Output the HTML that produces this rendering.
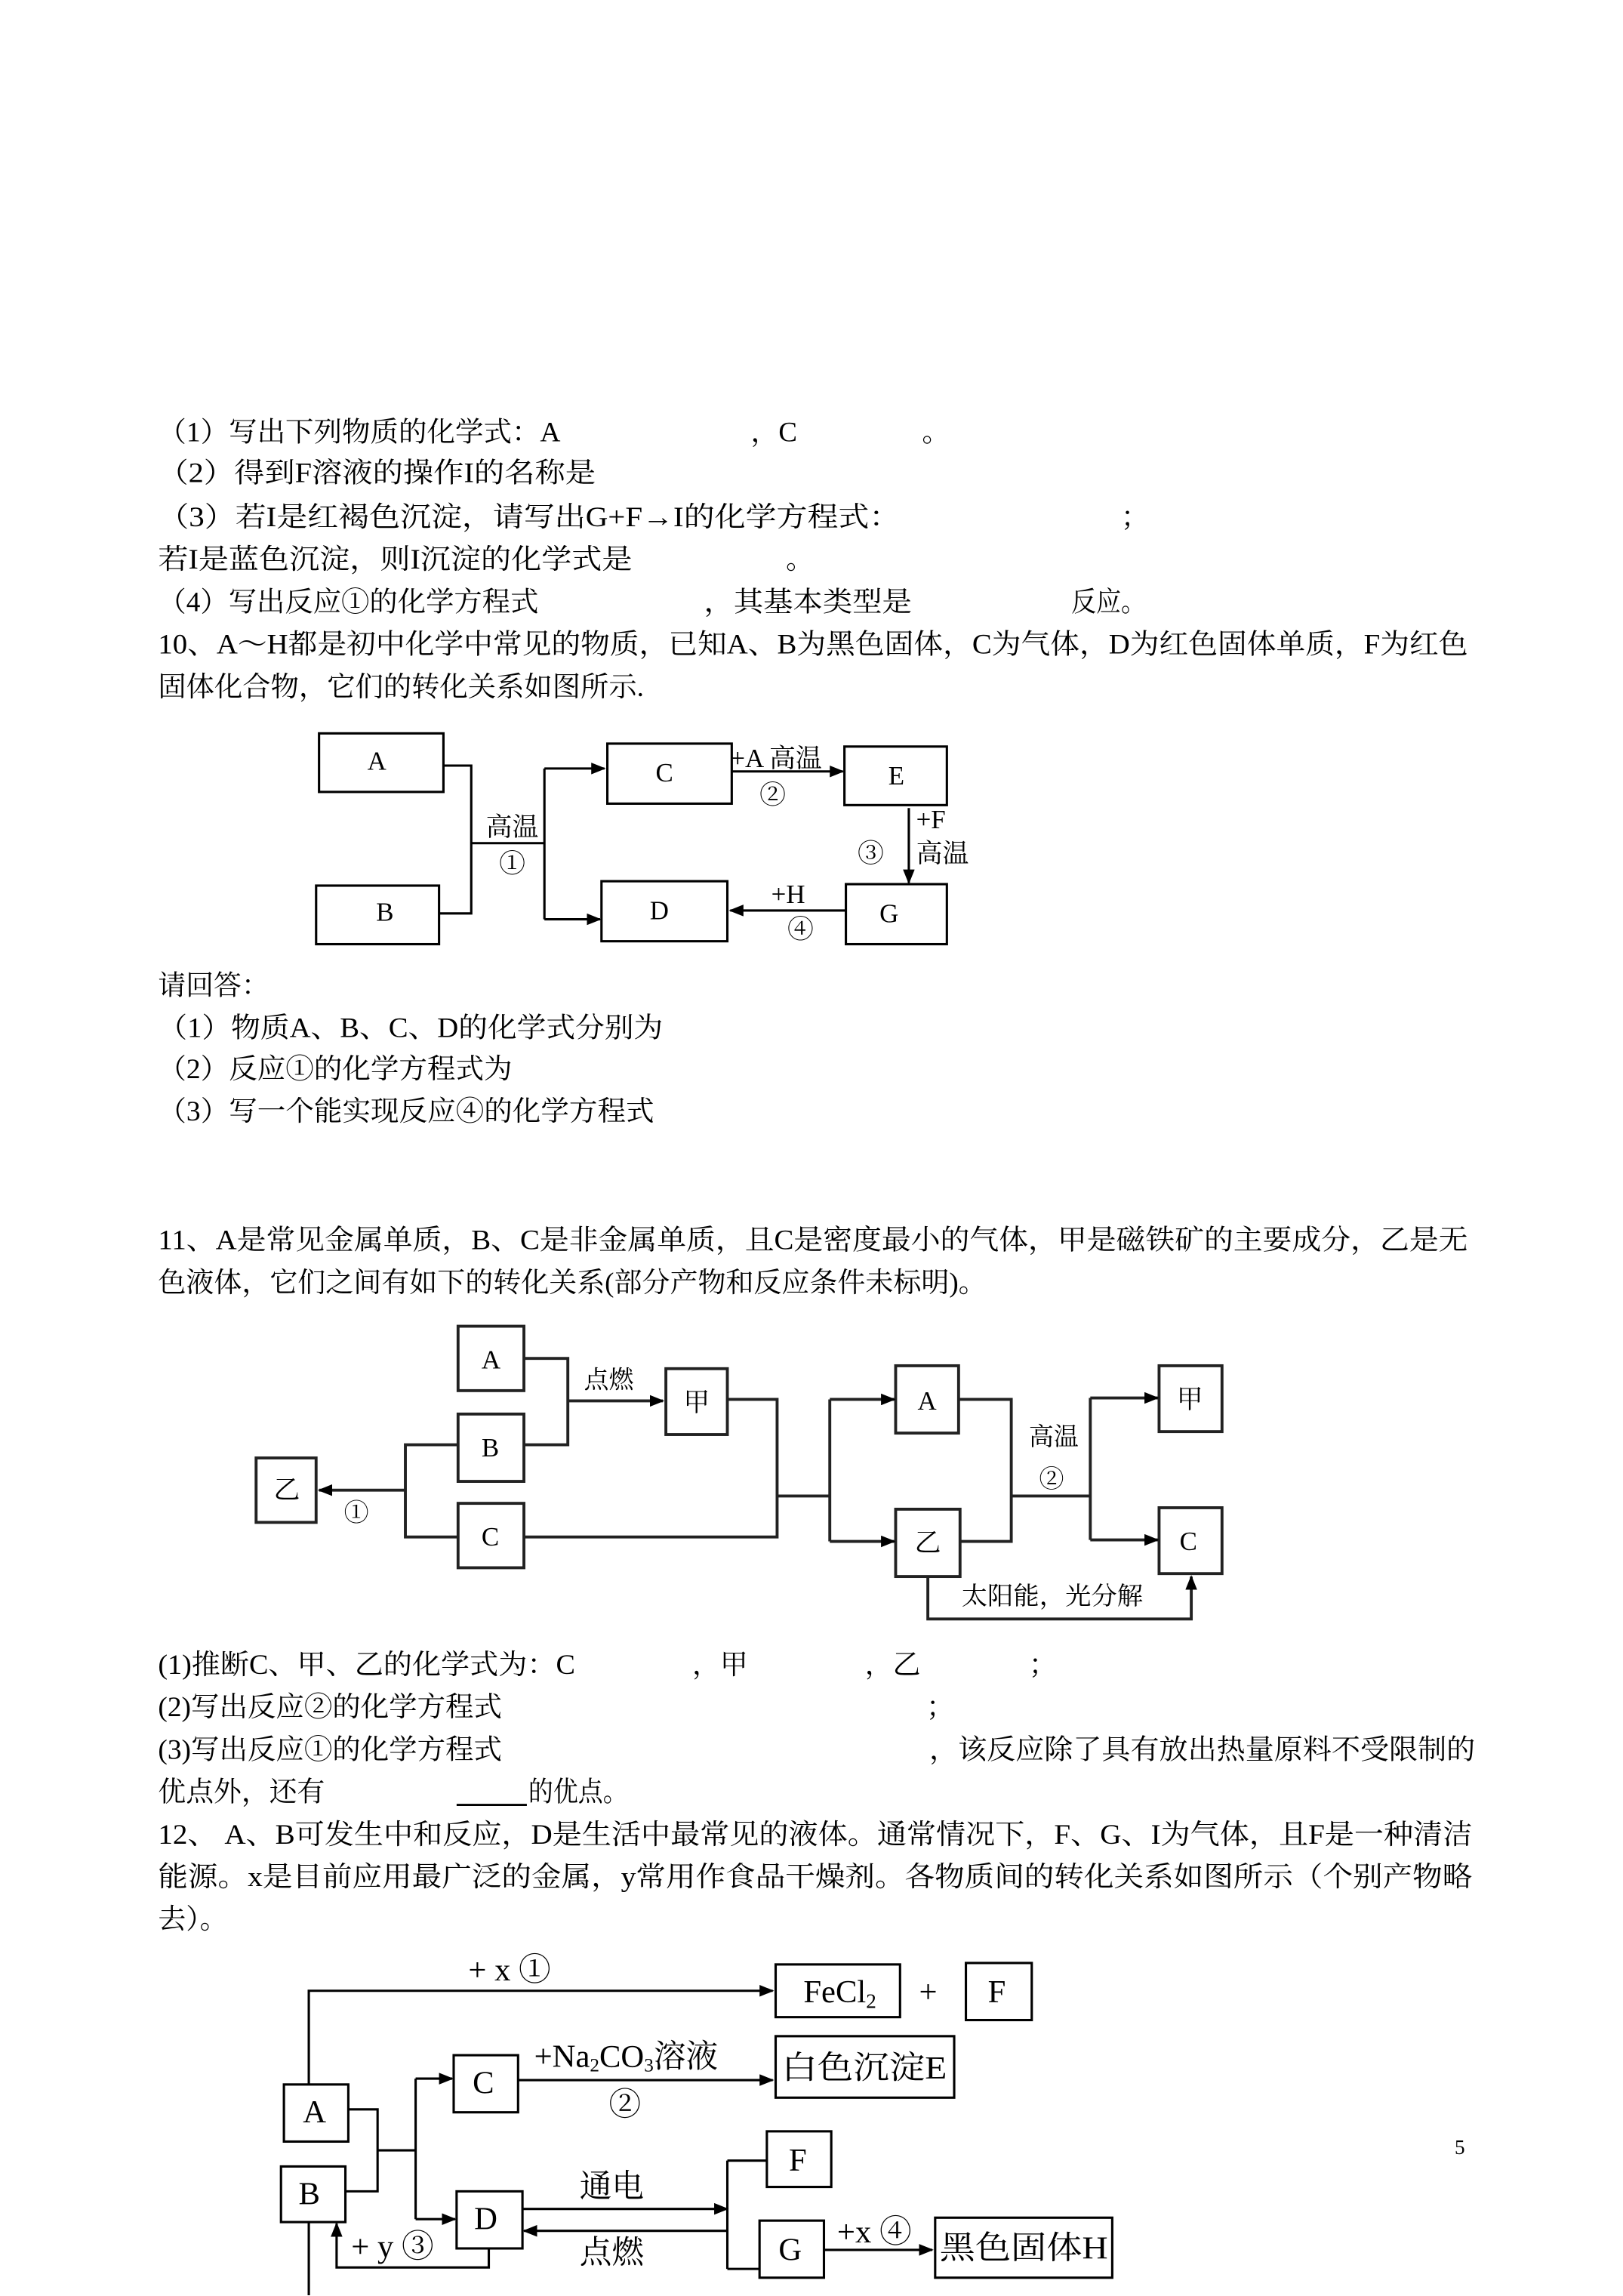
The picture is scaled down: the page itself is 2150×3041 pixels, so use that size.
<!DOCTYPE html>
<html><head><meta charset="utf-8"><style>
html,body{margin:0;padding:0;background:#fff;}
svg{display:block;}
text{font-family:"Liberation Serif","Noto Serif CJK SC",serif;fill:#000;dominant-baseline:central;}
.t{font-size:19px;}
.l{font-size:17px;}
.b{font-size:18px;}
</style></head><body>
<svg width="2150" height="3041" viewBox="0 0 1109 1568.5" preserveAspectRatio="none" xmlns="http://www.w3.org/2000/svg">
<defs>
<marker id="ar" markerWidth="10" markerHeight="8" refX="9" refY="4" orient="auto" markerUnits="userSpaceOnUse"><path d="M0,0 L10,4 L0,8 z" fill="#000"/></marker>
</defs>
<text class="t" x="108" y="295" textLength="275" lengthAdjust="spacingAndGlyphs">（1）写出下列物质的化学式：A</text>
<text class="t" x="513" y="295">，C</text>
<text class="t" x="630" y="295">。</text>
<text class="t" x="108" y="323" textLength="299" lengthAdjust="spacingAndGlyphs">（2）得到F溶液的操作I的名称是</text>
<text class="t" x="108" y="353" textLength="507" lengthAdjust="spacingAndGlyphs">（3）若I是红褐色沉淀，请写出G+F→I的化学方程式：</text>
<text class="t" x="766" y="353">；</text>
<text class="t" x="108" y="382" textLength="324" lengthAdjust="spacingAndGlyphs">若I是蓝色沉淀，则I沉淀的化学式是</text>
<text class="t" x="537" y="382">。</text>
<text class="t" x="108" y="411" textLength="260" lengthAdjust="spacingAndGlyphs">（4）写出反应①的化学方程式</text>
<text class="t" x="481" y="411" textLength="142" lengthAdjust="spacingAndGlyphs">，其基本类型是</text>
<text class="t" x="732" y="411" textLength="51" lengthAdjust="spacingAndGlyphs">反应。</text>
<text class="t" x="108" y="440" textLength="895" lengthAdjust="spacingAndGlyphs">10、A～H都是初中化学中常见的物质，已知A、B为黑色固体，C为气体，D为红色固体单质，F为红色</text>
<text class="t" x="108" y="469" textLength="332" lengthAdjust="spacingAndGlyphs">固体化合物，它们的转化关系如图所示.</text>

<g fill="none" stroke="#000" stroke-width="1.6">
<rect x="218" y="501" width="85" height="40"/>
<rect x="216" y="605" width="84" height="40"/>
<rect x="415" y="508" width="85" height="41"/>
<rect x="577" y="510" width="70" height="40"/>
<rect x="411" y="602" width="86" height="41"/>
<rect x="578" y="604" width="69" height="41"/>
<polyline points="303,523 322,523 322,624 300,624"/>
<line x1="322" y1="576" x2="372" y2="576"/>
<line x1="372" y1="525" x2="372" y2="628"/>
<line x1="372" y1="525" x2="413" y2="525" marker-end="url(#ar)"/>
<line x1="372" y1="628" x2="410" y2="628" marker-end="url(#ar)"/>
<line x1="500" y1="527" x2="576" y2="527" marker-end="url(#ar)"/>
<line x1="621" y1="552" x2="621" y2="603" marker-end="url(#ar)"/>
<line x1="578" y1="622" x2="499" y2="622" marker-end="url(#ar)"/>
</g>
<g class="b">
<text x="251" y="520">A</text><text x="257" y="623">B</text>
<text x="448" y="528">C</text><text x="607" y="530">E</text>
<text x="444" y="622">D</text><text x="601" y="624">G</text>
<text x="332" y="565" class="b">高温</text>
<text x="341" y="590">①</text>
<text x="499" y="518">+A 高温</text>
<text x="519" y="543">②</text>
<text x="626" y="560">+F</text>
<text x="626" y="583">高温</text>
<text x="586" y="583">③</text>
<text x="527" y="611">+H</text>
<text x="538" y="635">④</text>
</g>

<text class="t" x="108" y="673">请回答：</text>
<text class="t" x="108" y="702" textLength="345" lengthAdjust="spacingAndGlyphs">（1）物质A、B、C、D的化学式分别为</text>
<text class="t" x="108" y="730" textLength="242" lengthAdjust="spacingAndGlyphs">（2）反应①的化学方程式为</text>
<text class="t" x="108" y="759" textLength="339" lengthAdjust="spacingAndGlyphs">（3）写一个能实现反应④的化学方程式</text>

<text class="t" x="108" y="847" textLength="895" lengthAdjust="spacingAndGlyphs">11、A是常见金属单质，B、C是非金属单质，且C是密度最小的气体，甲是磁铁矿的主要成分，乙是无</text>
<text class="t" x="108" y="876" textLength="566" lengthAdjust="spacingAndGlyphs">色液体，它们之间有如下的转化关系(部分产物和反应条件未标明)。</text>

<g fill="none" stroke="#222" stroke-width="2">
<rect x="313" y="906" width="45" height="44"/>
<rect x="313" y="966" width="45" height="46"/>
<rect x="313" y="1027" width="45" height="44"/>
<rect x="175" y="996" width="41" height="44"/>
<rect x="455" y="935" width="42" height="45"/>
<rect x="612" y="933" width="43" height="46"/>
<rect x="612" y="1031" width="44" height="46"/>
<rect x="792" y="933" width="43" height="45"/>
<rect x="792" y="1030" width="43" height="45"/>
<polyline points="358,928 388,928 388,987 358,987"/>
<line x1="388" y1="957" x2="453" y2="957" marker-end="url(#ar)"/>
<polyline points="313,987 277,987 277,1050 313,1050"/>
<line x1="277" y1="1018" x2="218" y2="1018" marker-end="url(#ar)"/>
<polyline points="497,956 531,956 531,1050 358,1050"/>
<line x1="531" y1="1022" x2="567" y2="1022"/>
<line x1="567" y1="956" x2="567" y2="1053"/>
<line x1="567" y1="956" x2="611" y2="956" marker-end="url(#ar)"/>
<line x1="567" y1="1053" x2="611" y2="1053" marker-end="url(#ar)"/>
<polyline points="655,956 691,956 691,1053 656,1053"/>
<line x1="691" y1="1022" x2="745" y2="1022"/>
<line x1="745" y1="955" x2="745" y2="1052"/>
<line x1="745" y1="955" x2="791" y2="955" marker-end="url(#ar)"/>
<line x1="745" y1="1052" x2="791" y2="1052" marker-end="url(#ar)"/>
<polyline points="634,1077 634,1106 814,1106 814,1077" marker-end="url(#ar)"/>
</g>
<g class="b">
<text x="329" y="929">A</text><text x="329" y="989">B</text><text x="329" y="1050">C</text>
<text x="187" y="1018">乙</text><text x="467" y="958">甲</text>
<text x="627" y="957">A</text><text x="625" y="1054">乙</text>
<text x="804" y="956">甲</text><text x="806" y="1053">C</text>
<text x="399" y="943" class="l">点燃</text>
<text x="703" y="982" class="l">高温</text>
<text x="710" y="1011" class="l">②</text>
<text x="235" y="1034" class="l">①</text>
<text x="657" y="1091" class="l" textLength="124" lengthAdjust="spacingAndGlyphs">太阳能，光分解</text>
</g>

<text class="t" x="108" y="1137" textLength="285" lengthAdjust="spacingAndGlyphs">(1)推断C、甲、乙的化学式为：C</text>
<text class="t" x="473" y="1137">，甲</text>
<text class="t" x="591" y="1137">，乙</text>
<text class="t" x="703" y="1137">；</text>
<text class="t" x="108" y="1166" textLength="235" lengthAdjust="spacingAndGlyphs">(2)写出反应②的化学方程式</text>
<text class="t" x="633" y="1166">；</text>
<text class="t" x="108" y="1195" textLength="235" lengthAdjust="spacingAndGlyphs">(3)写出反应①的化学方程式</text>
<text class="t" x="635" y="1195" textLength="373" lengthAdjust="spacingAndGlyphs">，该反应除了具有放出热量原料不受限制的</text>
<text class="t" x="108" y="1224" textLength="114" lengthAdjust="spacingAndGlyphs">优点外，还有</text>
<line x1="312" y1="1233" x2="360" y2="1233" stroke="#000" stroke-width="1.5"/>
<text class="t" x="361" y="1224" textLength="68" lengthAdjust="spacingAndGlyphs">的优点。</text>
<text class="t" x="108" y="1253" textLength="898" lengthAdjust="spacingAndGlyphs">12、 A、B可发生中和反应，D是生活中最常见的液体。通常情况下，F、G、I为气体，且F是一种清洁</text>
<text class="t" x="108" y="1282" textLength="898" lengthAdjust="spacingAndGlyphs">能源。x是目前应用最广泛的金属，y常用作食品干燥剂。各物质间的转化关系如图所示（个别产物略</text>
<text class="t" x="108" y="1311">去）。</text>

<text x="994" y="1467" style="font-size:14px">5</text>

<g fill="none" stroke="#000" stroke-width="1.6">
<rect x="530" y="1342" width="85" height="36"/>
<rect x="660" y="1341" width="45" height="39"/>
<rect x="194" y="1424" width="44" height="39"/>
<rect x="192" y="1480" width="44" height="38"/>
<rect x="310" y="1404" width="44" height="39"/>
<rect x="530" y="1391" width="122" height="42"/>
<rect x="312" y="1497" width="45" height="39"/>
<rect x="524" y="1456" width="44" height="38"/>
<rect x="519" y="1517" width="44" height="39"/>
<rect x="639" y="1515" width="121" height="41"/>
<polyline points="211,1424 211,1360 528,1360" marker-end="url(#ar)"/>
<polyline points="238,1441 258,1441 258,1497 236,1497"/>
<line x1="258" y1="1469" x2="284" y2="1469"/>
<line x1="284" y1="1420" x2="284" y2="1516"/>
<line x1="284" y1="1420" x2="309" y2="1420" marker-end="url(#ar)"/>
<line x1="284" y1="1516" x2="311" y2="1516" marker-end="url(#ar)"/>
<line x1="354" y1="1421" x2="528" y2="1421" marker-end="url(#ar)"/>
<line x1="357" y1="1509" x2="497" y2="1509" marker-end="url(#ar)"/>
<line x1="497" y1="1524" x2="358" y2="1524" marker-end="url(#ar)"/>
<line x1="497" y1="1476" x2="497" y2="1550"/>
<line x1="497" y1="1476" x2="524" y2="1476"/>
<line x1="497" y1="1550" x2="519" y2="1550"/>
<line x1="563" y1="1537" x2="637" y2="1537" marker-end="url(#ar)"/>
<polyline points="334,1536 334,1549 230,1549 230,1519" marker-end="url(#ar)"/>
<line x1="211" y1="1518" x2="211" y2="1568"/>
</g>
<g style="font-size:22px">
<text x="549" y="1361">FeCl<tspan style="font-size:14px" dy="6">2</tspan></text>
<text x="628" y="1361">+</text>
<text x="675" y="1361">F</text>
<text x="207" y="1443">A</text>
<text x="204" y="1499">B</text>
<text x="323" y="1423">C</text>
<text x="324" y="1516">D</text>
<text x="539" y="1476">F</text>
<text x="532" y="1537">G</text>
<text x="534" y="1413" textLength="113" lengthAdjust="spacingAndGlyphs">白色沉淀E</text>
<text x="642" y="1536" textLength="115" lengthAdjust="spacingAndGlyphs">黑色固体H</text>
<text x="320" y="1346">+ x ①</text>
<text x="365" y="1405">+Na<tspan style="font-size:13px" dy="6">2</tspan><tspan dy="-6">CO</tspan><tspan style="font-size:13px" dy="6">3</tspan><tspan dy="-6">溶液</tspan></text>
<text x="416" y="1438">②</text>
<text x="396" y="1494">通电</text>
<text x="396" y="1539">点燃</text>
<text x="572" y="1525">+x ④</text>
<text x="240" y="1535">+ y ③</text>
</g>
</svg>
</body></html>
